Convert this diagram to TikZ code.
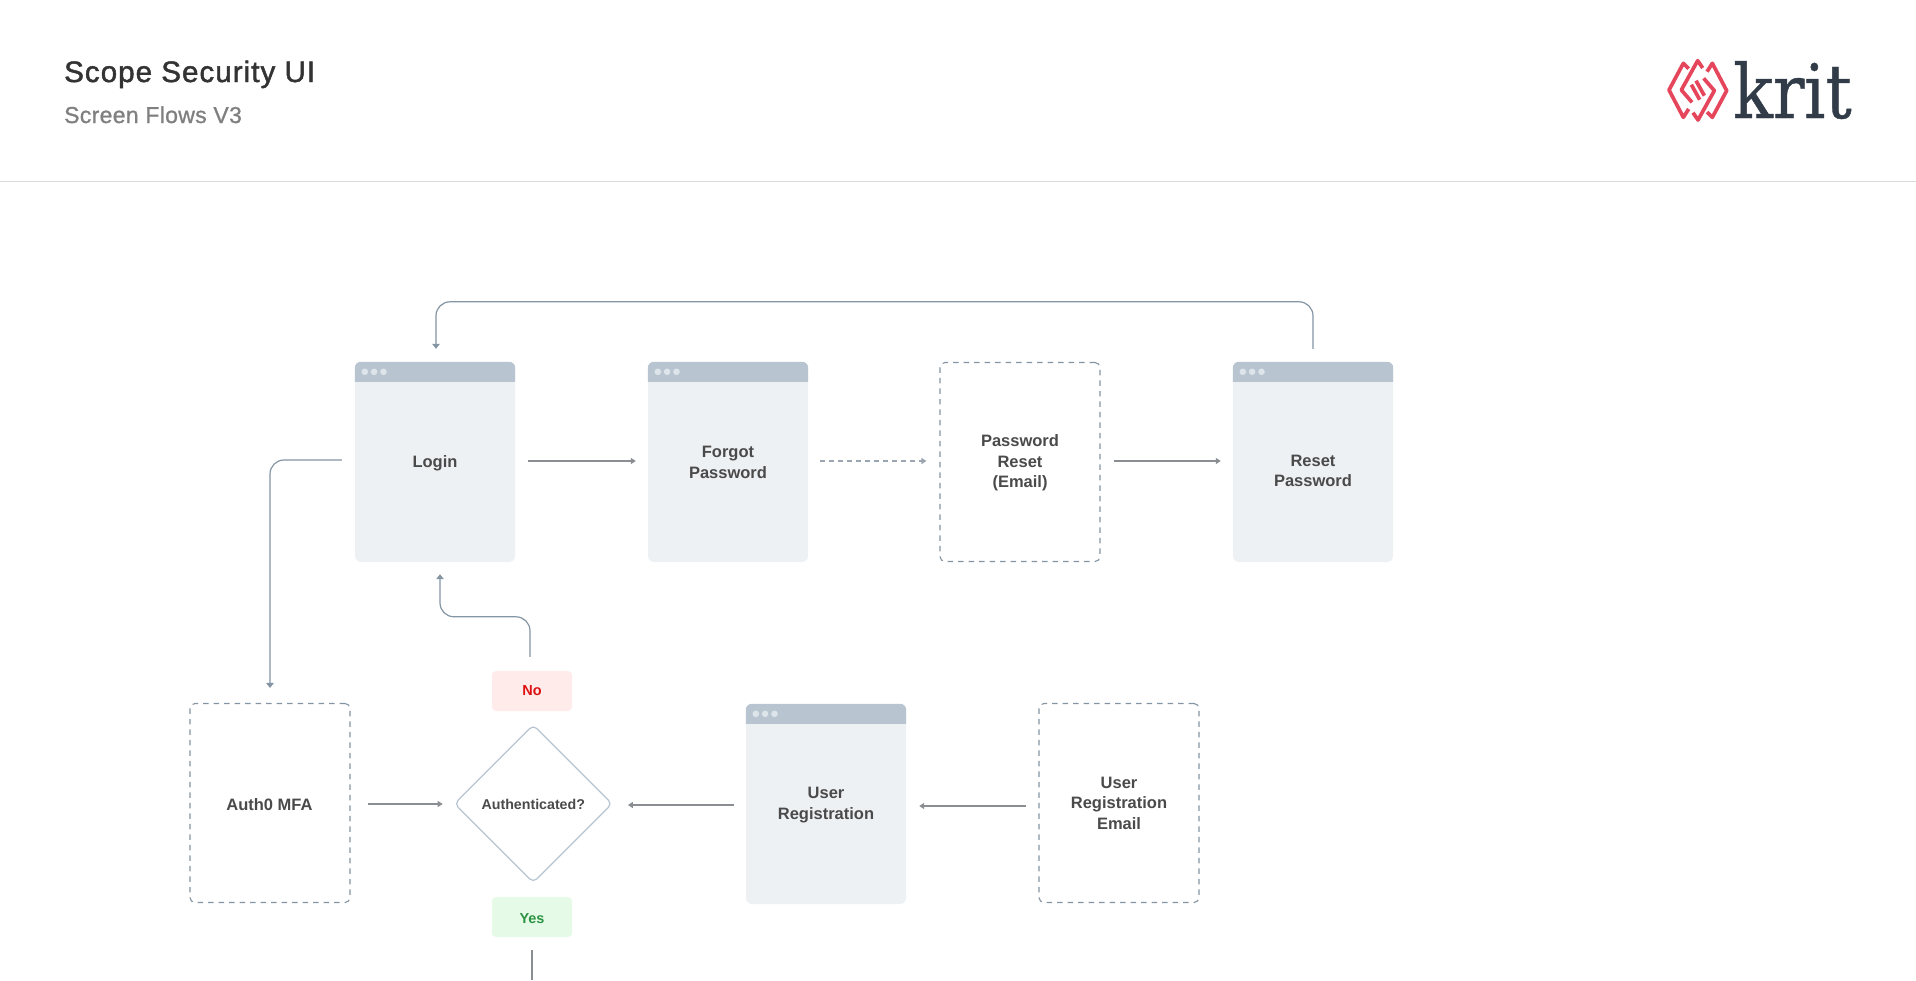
\documentclass[tikz,border=0pt]{standalone}
\usepackage{fontspec}
\setmainfont{Liberation Sans}
\newfontfamily\titlefont[FakeBold=1.6,LetterSpace=3.6]{Liberation Sans}
\newfontfamily\subfont[FakeBold=1.0,LetterSpace=1.4]{Liberation Sans}
\newfontfamily\krfont[FakeStretch=0.875,FakeBold=0.6]{DejaVu Serif}
\usetikzlibrary{shapes.geometric,arrows.meta,calc}
\definecolor{cardfill}{HTML}{EEF1F4}
\definecolor{barfill}{HTML}{B8C4CF}
\definecolor{dotfill}{HTML}{DDE4EA}
\definecolor{lbl}{HTML}{4A4A4A}
\definecolor{flowc}{HTML}{8A8E92}
\definecolor{loopc}{HTML}{8495A3}
\definecolor{dashc}{HTML}{8494A2}
\definecolor{dasharrow}{HTML}{9AA5B0}
\definecolor{diac}{HTML}{B8C4D2}
\definecolor{krred}{HTML}{E5465B}
\definecolor{krdark}{HTML}{323C49}
\definecolor{nofill}{HTML}{FFEBEA}
\definecolor{notext}{HTML}{DD1111}
\definecolor{yesfill}{HTML}{E6FAE8}
\definecolor{yestext}{HTML}{2E9444}
\tikzset{
  x=1pt,y=-1pt,
  lab/.style={font=\fontsize{16.5}{20.2}\selectfont\bfseries,text=lbl,align=center,inner sep=0pt},
  screen/.style={rectangle,rounded corners=6pt,fill=cardfill,inner sep=0pt,minimum width=160pt,minimum height=200pt},
  ghost/.style={rectangle,rounded corners=5pt,draw=dashc,line width=1.1pt,dash pattern=on 5.5pt off 5pt,inner sep=0pt,minimum width=160pt,minimum height=199pt},
  decision/.style={diamond,draw=diac,line width=1.2pt,inner sep=0pt,rounded corners=5pt,aspect=1,minimum width=158pt,minimum height=158pt},
  declab/.style={lab,font=\fontsize{14.2}{18}\selectfont\bfseries},
  tag/.style={rectangle,rounded corners=4pt,minimum width=80pt,minimum height=40pt,inner sep=0pt},
  taglab/.style={inner sep=0pt,font=\fontsize{14.5}{18}\selectfont\bfseries},
  flow/.style={draw=flowc,line width=1.2pt,-{Triangle[length=5pt,width=6pt]}},
  flowdash/.style={flow,draw=dasharrow,dash pattern=on 5pt off 4pt},
  loop/.style={draw=loopc,line width=1.2pt,rounded corners=14pt,-{Triangle[length=5pt,width=7.5pt]}},
  plainline/.style={draw=flowc,line width=1.2pt},
  krl/.style={draw=krred,line width=3.7pt,line cap=butt,line join=round},
}
\newcommand{\winbar}[1]{%
  \fill[barfill] ([yshift=-20pt]#1.north west) [rounded corners=6pt] -- (#1.north west) -- (#1.north east) [sharp corners] -- ([yshift=-20pt]#1.north east) -- cycle;
  \foreach \d in {10,19.3,28.7}{\fill[dotfill] ([xshift=\d pt,yshift=-10pt]#1.north west) circle (3.3pt);}
}
\begin{document}
\begin{tikzpicture}
\useasboundingbox (0,0) rectangle (1916,980);
\fill[white] (0,0) rectangle (1916,980);
% header
\node[anchor=base west,inner sep=0pt,font=\titlefont\fontsize{29.5}{34}\selectfont,text=black!80] (title) at (64,82) {Scope Security UI};
\node[anchor=base west,inner sep=0pt,font=\subfont\fontsize{23}{28}\selectfont,text=black!50] (subtitle) at (64,123) {Screen Flows V3};
\coordinate (hl) at (0,181.5); \coordinate (hr) at (1916,181.5);
\draw[black!15,line width=1pt] (hl) -- (hr);
% logo
\begin{scope}[shift={(1662,54)},scale=1/3]
 \draw[krl] (80,44) -- (64,28) -- (21,108) -- (64,190) -- (80,165);
 \draw[krl] (122,42) -- (107,20) -- (58,108) -- (90,145);
 \draw[krl] (135,174) -- (151,190) -- (194,110) -- (151,28) -- (135,53);
 \draw[krl] (93,176) -- (108,198) -- (157,110) -- (125,73);
 \draw[krl] (88,92) -- (113,137);
 \draw[krl] (102,80) -- (127,125);
\end{scope}
\node[anchor=base west,inner sep=0pt,font=\krfont\fontsize{75}{80}\selectfont,text=krdark] (logo) at (1733,118) {krit};
% nodes
\node[screen,label={[lab,yshift=-1.2pt]center:Login}] (login) at (435,462) {};
\node[screen,label={[lab,yshift=-.3pt]center:{Forgot\\Password}}] (forgot) at (728,462) {};
\node[ghost,label={[lab,yshift=-.8pt]center:{Password\\Reset\\(Email)}}] (pwreset) at (1020,462) {};
\node[screen,label={[lab,yshift=-9pt]center:{Reset\\Password}}] (reset) at (1313,462) {};
\node[ghost,label={[lab,xshift=-.5pt,yshift=-1.2pt]center:Auth0 MFA}] (mfa) at (270,803) {};
\node[decision,label={[declab,yshift=-.8pt]center:Authenticated?}] (auth) at (533.3,803.7) {};
\node[screen,label={[lab,yshift=-1pt]center:{User\\Registration}}] (reg) at (826,804) {};
\node[ghost,label={[lab,yshift=-.3pt]center:{User\\Registration\\Email}}] (regmail) at (1119,803) {};
\node[tag,fill=nofill,label={[taglab,text=notext]center:No}] (no) at (532,691) {};
\node[tag,fill=yesfill,label={[taglab,text=yestext,yshift=-1.2pt]center:Yes}] (yes) at (532,917) {};
\winbar{login}\winbar{forgot}\winbar{reset}\winbar{reg}
% connectors
\draw[flow,shorten <=13pt,shorten >=12pt] ([yshift=1pt]login.east) -- ([yshift=1pt]forgot.west);
\draw[flowdash,shorten <=12pt,shorten >=13pt] ([yshift=1pt]forgot.east) -- ([yshift=1pt]pwreset.west);
\draw[flow,shorten <=13pt,shorten >=12pt] ([yshift=1pt]pwreset.east) -- ([yshift=1pt]reset.west);
\draw[loop] ([yshift=13pt]reset.north) -- ++(0,-47) -| ([xshift=1pt,yshift=13pt]login.north);
\draw[loop] ([yshift=2pt]login.west) ++(-13,0) -| ([yshift=15pt]mfa.north);
\draw[loop] ([xshift=-2pt,yshift=14pt]no.north) -- ++(0,-40) -| ([xshift=5pt,yshift=-12pt]login.south);
\draw[flow,shorten <=17pt,shorten >=11pt] ([yshift=-1pt]mfa.east) -- ([yshift=-.3pt]auth.west);
\draw[flow,shorten <=12pt,shorten >=15pt] ([yshift=-1pt]reg.west) -- ([yshift=-1.3pt]auth.east);
\draw[flow,shorten <=12pt,shorten >=13pt] ([yshift=-3pt]regmail.west) -- ([yshift=-2pt]reg.east);
\coordinate (yesend) at (532,980);
\draw[plainline] ([yshift=-13pt]yes.south) -- (yesend);
\end{tikzpicture}
\end{document}
